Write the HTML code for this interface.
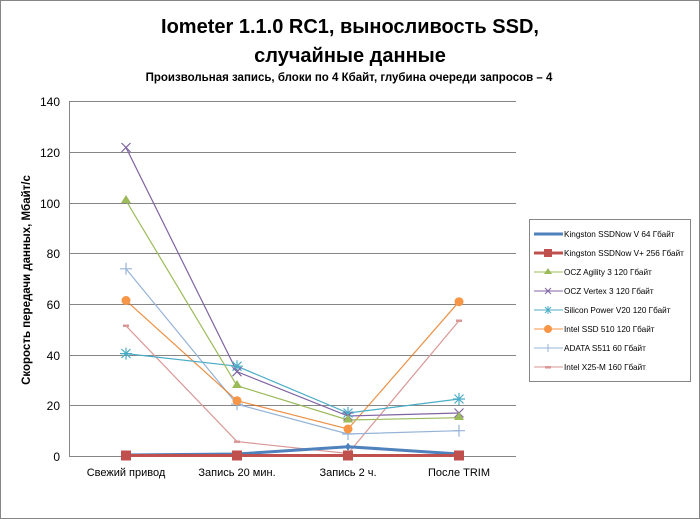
<!DOCTYPE html>
<html><head><meta charset="utf-8"><style>
body{margin:0;background:#fff;}
svg{display:block;font-family:"Liberation Sans","DejaVu Sans",sans-serif;}
</style></head><body>
<svg width="700" height="519" viewBox="0 0 700 519" xmlns="http://www.w3.org/2000/svg">
<rect x="0.5" y="0.5" width="699" height="518" fill="#fff" stroke="#868686"/>
<text x="350" y="33" text-anchor="middle" font-size="20" font-weight="bold">Iometer 1.1.0 RC1, выносливость SSD,</text>
<text x="350" y="62" text-anchor="middle" font-size="20" font-weight="bold">случайные данные</text>
<text x="349" y="81" text-anchor="middle" font-size="11.5" font-weight="bold">Произвольная  запись, блоки по 4 Кбайт, глубина очереди запросов – 4</text>
<g stroke="#868686" stroke-width="1">
<line x1="70" y1="101.5" x2="516" y2="101.5"/>
<line x1="70" y1="152.5" x2="516" y2="152.5"/>
<line x1="70" y1="203.5" x2="516" y2="203.5"/>
<line x1="70" y1="253.5" x2="516" y2="253.5"/>
<line x1="70" y1="304.5" x2="516" y2="304.5"/>
<line x1="70" y1="355.5" x2="516" y2="355.5"/>
<line x1="70" y1="405.5" x2="516" y2="405.5"/>
<line x1="70" y1="456.5" x2="516" y2="456.5"/>
<line x1="69.5" y1="101" x2="69.5" y2="457"/>
</g>
<g font-size="12" text-anchor="end">
<text x="60" y="106">140</text><text x="60" y="157">120</text><text x="60" y="208">100</text>
<text x="60" y="258">80</text><text x="60" y="309">60</text><text x="60" y="360">40</text>
<text x="60" y="410">20</text><text x="60" y="461">0</text>
</g>
<g font-size="11" text-anchor="middle">
<text x="126" y="476">Свежий  привод</text><text x="237" y="476">Запись 20 мин.</text>
<text x="348" y="476">Запись 2 ч.</text><text x="459" y="476">После TRIM</text>
</g>
<text transform="translate(30,280) rotate(-90)" text-anchor="middle" font-size="11.5" font-weight="bold">Скорость  передачи данных, Мбайт/с</text>
<g fill="none">
<polyline stroke="#d99795" stroke-width="1.2" points="126,325.8 237,441.6 348,453.5 459,320.7"/>
<rect x="123" y="324.5" width="6" height="2.5" fill="#d99795"/><rect x="234" y="440.5" width="6" height="2.5" fill="#d99795"/><rect x="456" y="319.5" width="6" height="2.5" fill="#d99795"/>
<polyline stroke="#95b3d7" stroke-width="1.2" points="126,268.8 237,404.2 348,434 459,430.7"/>
<polyline stroke="#e46c0a" stroke-opacity="0.75" stroke-width="1.2" points="126,300.5 237,400.7 348,429 459,301.7"/>
<polyline stroke="#4bacc6" stroke-width="1.2" points="126,353.6 237,366.2 348,413 459,399"/>
<polyline stroke="#8064a2" stroke-width="1.2" points="126,147.5 237,371.7 348,416 459,413"/>
<polyline stroke="#9bbb59" stroke-width="1.2" points="126,200.6 237,385.7 348,420 459,417.7"/>
<polyline stroke="#4f81bd" stroke-width="3" points="126,455 237,454 348,446.7 459,454"/>
<polyline stroke="#c0504d" stroke-width="3" points="126,455.5 237,455.5 348,455.5 459,455.5"/>
</g>
<g stroke="#95b3d7" stroke-width="1.2">
<path d="M120,268.8h12M126,262.8v12M231,404.2h12M237,398.2v12M342,434h12M348,428v12M453,430.7h12M459,424.7v12"/></g>
<g fill="#f79646"><circle cx="126" cy="300.5" r="4.5"/><circle cx="237" cy="400.7" r="4.5"/><circle cx="348" cy="429" r="4.5"/><circle cx="459" cy="301.7" r="4.5"/></g>
<g stroke="#4bacc6" stroke-width="1.2">
<path d="M120,353.6h12M126,347.6v12M121.5,349l9,9M121.5,358l9,-9"/>
<path d="M231,366.2h12M237,360.2v12M232.5,361.7l9,9M232.5,370.7l9,-9"/>
<path d="M342,413h12M348,407v12M343.5,408.5l9,9M343.5,417.5l9,-9"/>
<path d="M453,399h12M459,393v12M454.5,394.5l9,9M454.5,403.5l9,-9"/></g>
<g stroke="#8064a2" stroke-width="1.2">
<path d="M121.5,143l9,9M121.5,152l9,-9M232.5,367.2l9,9M232.5,376.2l9,-9M343.5,411.5l9,9M343.5,420.5l9,-9M454.5,408.5l9,9M454.5,417.5l9,-9"/></g>
<g fill="#9bbb59">
<path d="M126,195l5,8h-10z"/><path d="M237,380l5,8h-10z"/><path d="M348,414.5l5,8h-10z"/><path d="M459,412l5,8h-10z"/></g>
<g fill="#4f81bd"><path d="M348,442.7l3,4-3,4-3-4z"/></g>
<g fill="#c0504d">
<rect x="121" y="450.5" width="10" height="10"/><rect x="232" y="450.5" width="10" height="10"/><rect x="343" y="450.5" width="10" height="10"/><rect x="454" y="450.5" width="10" height="10"/></g>
<rect x="529.5" y="219.5" width="161" height="162" fill="#fff" stroke="#868686"/>
<g font-size="8.2">
<line x1="534" y1="234" x2="563" y2="234" stroke="#4f81bd" stroke-width="3"/><text x="564" y="237">Kingston SSDNow  V  64 Гбайт</text>
<line x1="534" y1="253" x2="563" y2="253" stroke="#c0504d" stroke-width="3"/><rect x="544" y="249" width="8" height="8" fill="#c0504d"/><text x="564" y="256">Kingston SSDNow  V+ 256 Гбайт</text>
<line x1="534" y1="272" x2="563" y2="272" stroke="#9bbb59"/><path d="M548,268l4,6h-8z" fill="#9bbb59"/><text x="564" y="275">OCZ Agility  3 120 Гбайт</text>
<line x1="534" y1="291" x2="563" y2="291" stroke="#8064a2"/><path d="M545,288l6,6M545,294l6,-6" stroke="#8064a2"/><text x="564" y="294">OCZ Vertex  3 120 Гбайт</text>
<line x1="534" y1="310" x2="563" y2="310" stroke="#4bacc6"/><path d="M545,307l6,6M545,313l6,-6M548,306v8" stroke="#4bacc6"/><text x="564" y="313">Silicon  Power  V20 120 Гбайт</text>
<line x1="534" y1="329" x2="563" y2="329" stroke="#f79646"/><circle cx="548" cy="329" r="4" fill="#f79646"/><text x="564" y="332">Intel  SSD 510 120 Гбайт</text>
<line x1="534" y1="348" x2="563" y2="348" stroke="#95b3d7"/><path d="M548,344v8" stroke="#95b3d7"/><text x="564" y="351">ADATA  S511 60 Гбайт</text>
<line x1="534" y1="367" x2="563" y2="367" stroke="#d99795"/><rect x="545" y="366" width="6" height="2.5" fill="#d99795"/><text x="564" y="370">Intel  X25-M 160 Гбайт</text>
</g>
</svg>
</body></html>
